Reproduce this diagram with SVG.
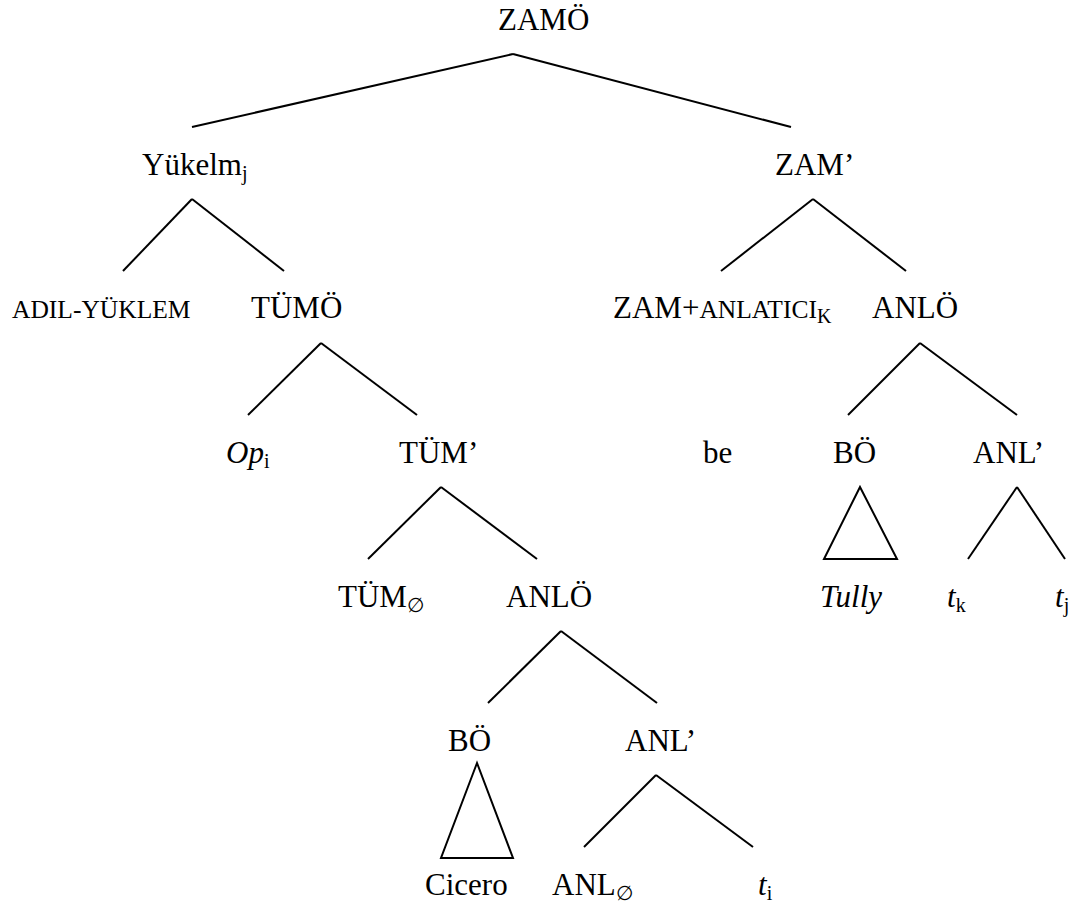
<svg xmlns="http://www.w3.org/2000/svg" width="1090" height="906" viewBox="0 0 1090 906">
<style>
text{font-family:"Liberation Serif","Times New Roman",serif;font-size:31px;fill:#000}
.sc{font-size:25.5px}
.sub{font-size:20px}
.it{font-style:italic}
.edge line,.edge polygon{stroke:#000;stroke-width:2;fill:none}
</style>
<rect width="1090" height="906" fill="#fff"/>
<g id="connectors" class="edge">
<line x1="513" y1="54" x2="192" y2="127"/>
<line x1="513" y1="54" x2="791" y2="127"/>
<line x1="192" y1="199" x2="123" y2="271"/>
<line x1="192" y1="199" x2="284" y2="271"/>
<line x1="813" y1="199" x2="721" y2="271"/>
<line x1="813" y1="199" x2="906" y2="271"/>
<line x1="321" y1="343" x2="248" y2="415"/>
<line x1="321" y1="343" x2="417" y2="415"/>
<line x1="920" y1="343" x2="848" y2="415"/>
<line x1="920" y1="343" x2="1017" y2="415"/>
<line x1="441" y1="487" x2="368" y2="559"/>
<line x1="441" y1="487" x2="537" y2="559"/>
<polygon points="860,487 824,559 897,559"/>
<line x1="1017" y1="487" x2="968" y2="559"/>
<line x1="1017" y1="487" x2="1065" y2="559"/>
<line x1="561" y1="631" x2="488" y2="703"/>
<line x1="561" y1="631" x2="657" y2="703"/>
<polygon points="477,763 441,858 513,858"/>
<line x1="656" y1="775" x2="584" y2="847"/>
<line x1="656" y1="775" x2="753" y2="847"/>
</g>
<g id="n-zamo"><text x="498" y="30">ZAMÖ</text></g>
<g id="n-yukelm"><text x="142" y="175">Yükelm<tspan class="sub" dy="5">j</tspan></text></g>
<g id="n-zambar"><text x="775" y="175">ZAM’</text></g>
<g id="n-adil"><text class="sc" x="12" y="318">ADIL-YÜKLEM</text></g>
<g id="n-tumo"><text x="251" y="318">TÜMÖ</text></g>
<g id="n-zamanl"><text x="613" y="318">ZAM+<tspan class="sc">ANLATICI</tspan><tspan class="sub" dy="5">K</tspan></text></g>
<g id="n-anlo1"><text x="872" y="318">ANLÖ</text></g>
<g id="n-op"><text x="226" y="463"><tspan class="it">Op</tspan><tspan class="sub" dy="5">i</tspan></text></g>
<g id="n-tumbar"><text x="399" y="463">TÜM’</text></g>
<g id="n-be"><text x="703" y="463">be</text></g>
<g id="n-bo1"><text x="833" y="463">BÖ</text></g>
<g id="n-anlbar1"><text x="973" y="463">ANL’</text></g>
<g id="n-tum0"><text x="338" y="607">TÜM<tspan class="sub" dy="5">∅</tspan></text></g>
<g id="n-anlo2"><text x="506" y="607">ANLÖ</text></g>
<g id="n-tully"><text class="it" x="820" y="607">Tully</text></g>
<g id="n-tk"><text x="947" y="607"><tspan class="it">t</tspan><tspan class="sub" dy="5">k</tspan></text></g>
<g id="n-tj"><text x="1055" y="607"><tspan class="it">t</tspan><tspan class="sub" dy="5">j</tspan></text></g>
<g id="n-bo2"><text x="448" y="751">BÖ</text></g>
<g id="n-anlbar2"><text x="625" y="751">ANL’</text></g>
<g id="n-cicero"><text x="425" y="895">Cicero</text></g>
<g id="n-anl0"><text x="552" y="895">ANL<tspan class="sub" dy="5">∅</tspan></text></g>
<g id="n-ti"><text x="758" y="895"><tspan class="it">t</tspan><tspan class="sub" dy="5">i</tspan></text></g>
</svg>
